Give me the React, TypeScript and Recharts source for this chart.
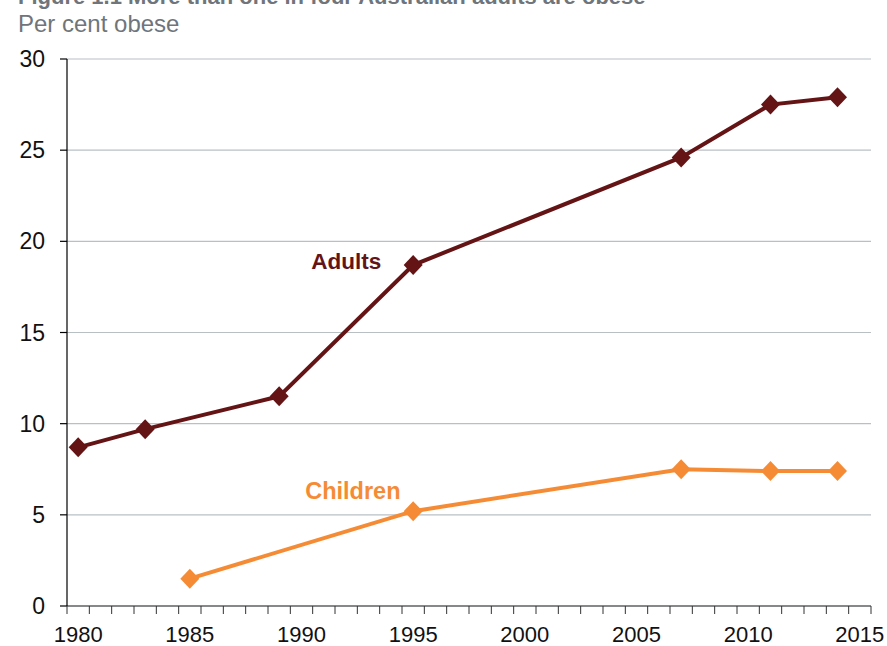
import React from "react"
import { LineChart, Line, XAxis, YAxis, CartesianGrid, ReferenceDot } from "recharts"

const adultYears = [1980, 1983, 1989, 1995, 2007, 2011, 2014]
const adultValues = [8.7, 9.7, 11.5, 18.7, 24.6, 27.5, 27.9]
const childYears = [1985, 1995, 2007, 2011, 2014]
const childValues = [1.5, 5.2, 7.5, 7.4, 7.4]

const yTicks = [0, 5, 10, 15, 20, 25, 30]
const yearLabels = [1980, 1985, 1990, 1995, 2000, 2005, 2010, 2015]
// tick marks sit between the yearly categories
const yearEdges = Array.from({ length: 37 }, (_, i) => 1979.5 + i)

const adultData = adultYears.map((year, i) => ({ year, value: adultValues[i] }))
const childData = childYears.map((year, i) => ({ year, value: childValues[i] }))

const ADULT = "#651416"
const CHILD = "#F58C35"
const FONT = "'Liberation Sans', Arial, Helvetica, sans-serif"
const TICK_SIZE = 8
const TICK_MARGIN = 12

function YearTick(props: any) {
  const { x, y, payload } = props
  const v = payload.value
  if (v % 1 !== 0) {
    const axisY = y - TICK_MARGIN - TICK_SIZE
    return <line x1={x} x2={x} y1={axisY} y2={axisY + TICK_SIZE} stroke="#333" strokeWidth={1} />
  }
  return (
    <text x={x} y={y} dy="0.71em" textAnchor="middle" fill="#111" fontSize={22} fontFamily={FONT}>
      {v}
    </text>
  )
}

function diamond(color: string) {
  return (props: any) => {
    const { cx, cy, index } = props
    if (cx == null || cy == null) return <g key={index} />
    return (
      <polygon
        key={index}
        points={`${cx},${cy - 10} ${cx + 9.5},${cy} ${cx},${cy + 10} ${cx - 9.5},${cy}`}
        fill={color}
      />
    )
  }
}

export default function App() {
  return (
    <div style={{ position: "absolute", left: 0, top: 0, width: 887, height: 646, background: "#fff" }}>
      <LineChart width={887} height={646} margin={{ top: 59, right: 16, left: 0, bottom: 0 }}>
        <CartesianGrid vertical={false} stroke="#b9c0c4" strokeWidth={1.2} />
        <XAxis
          dataKey="year"
          type="number"
          domain={[1979.5, 2015.5]}
          ticks={[...yearEdges, ...yearLabels].sort((a, b) => a - b)}
          interval={0}
          allowDataOverflow
          height={40}
          tickSize={TICK_SIZE}
          tickMargin={TICK_MARGIN}
          tickLine={false}
          axisLine={{ stroke: "#333", strokeWidth: 1.2 }}
          tick={<YearTick />}
        />
        <YAxis
          type="number"
          domain={[0, 30]}
          ticks={yTicks}
          interval={0}
          width={67}
          tickSize={7}
          tickMargin={15}
          axisLine={{ stroke: "#000", strokeWidth: 1.2 }}
          tickLine={{ stroke: "#000", strokeWidth: 1.2 }}
          tick={{ fill: "#111", fontSize: 23, fontFamily: FONT }}
        />
        <Line
          data={childData}
          dataKey="value"
          stroke={CHILD}
          strokeWidth={4}
          dot={diamond(CHILD)}
          activeDot={false}
          isAnimationActive={false}
        />
        <Line
          data={adultData}
          dataKey="value"
          stroke={ADULT}
          strokeWidth={4}
          dot={diamond(ADULT)}
          activeDot={false}
          isAnimationActive={false}
        />
        <ReferenceDot
          x={1992}
          y={18.9}
          r={0}
          fill="none"
          stroke="none"
          label={{ value: "Adults", position: "center", fill: ADULT, fontSize: 22.5, fontWeight: 700, fontFamily: FONT }}
        />
        <ReferenceDot
          x={1992.3}
          y={6.3}
          r={0}
          fill="none"
          stroke="none"
          label={{ value: "Children", position: "center", fill: CHILD, fontSize: 23.5, fontWeight: 700, fontFamily: FONT }}
        />
      </LineChart>
      <svg width={887} height={646} style={{ position: "absolute", left: 0, top: 0, pointerEvents: "none" }}>
        <text x={18} y={4} fill="#6f757b" fontSize={22} fontWeight={700} fontFamily={FONT}>
          Figure 1.1 More than one in four Australian adults are obese
        </text>
        <text x={18} y={32} fill="#6f757b" fontSize={24} fontFamily={FONT}>
          Per cent obese
        </text>
      </svg>
    </div>
  )
}
